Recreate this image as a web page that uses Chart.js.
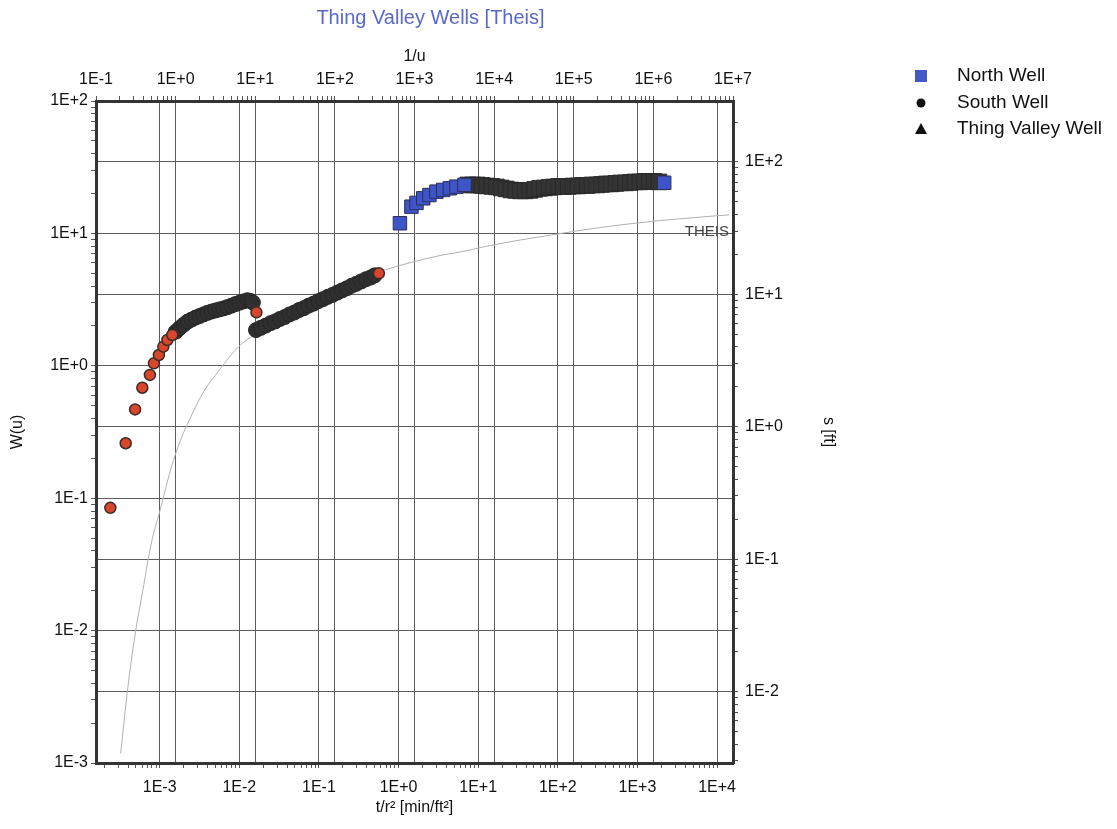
<!DOCTYPE html>
<html lang="en">
<head>
<meta charset="UTF-8">
<title>Thing Valley Wells [Theis]</title>
<script src="https://cdn.jsdelivr.net/npm/chart.js"></script>
<style>
    body { margin: 0; background: #fff; }
    #wrap { position: relative; width: 1117px; height: 829px; }
</style>
</head>
<body>
<div id="wrap"><canvas id="myChart"></canvas></div>
<script>
// values

// Theis type curve, W(u) against 1/u (top and left axes)
var theisInvU = [0.204, 0.255, 0.321, 0.369, 0.5, 0.634, 1.01, 1.78, 2.41, 3.16, 6.15, 10.1, 30, 100, 250, 493, 1790, 3908, 12400, 52400, 223000, 946000, 4.0e6, 9.0e6];
var theisW    = [0.00118, 0.0040, 0.0107, 0.0170, 0.047, 0.080, 0.221, 0.49, 0.68, 0.85, 1.39, 1.74, 2.75, 3.85, 4.75, 5.45, 6.67, 7.28, 8.41, 9.73, 11.1, 12.3, 13.3, 13.8];

// well data, t/r2 [min/ft2] against s [ft] (bottom and right axes)
// South Well, readings shown in red
var southMarkedT = [2.40e-4, 3.74e-4, 4.91e-4, 6.05e-4, 7.53e-4, 8.46e-4, 9.77e-4, 1.11e-3, 1.25e-3, 1.44e-3, 1.64e-2, 0.566];
var southMarkedS = [0.244, 0.750, 1.35, 1.97, 2.46, 3.01, 3.48, 4.02, 4.52, 4.93, 7.31, 14.4];
// South Well, first run
var southT1 = [1.59e-3, 1.78e-3, 2.00e-3, 2.24e-3, 2.51e-3, 2.82e-3, 3.16e-3, 3.55e-3, 3.98e-3, 4.47e-3, 5.01e-3, 5.62e-3, 6.31e-3, 7.08e-3, 7.94e-3, 8.91e-3, 1.00e-2, 1.12e-2, 1.26e-2, 1.38e-2, 1.48e-2];
var southS1 = [5.22, 5.56, 5.89, 6.22, 6.44, 6.67, 6.85, 7.05, 7.24, 7.41, 7.55, 7.69, 7.82, 8.00, 8.20, 8.43, 8.63, 8.83, 9.02, 8.91, 8.67];
// South Well, second run
var southT2 = [0.0162, 0.0186, 0.0214, 0.0246, 0.0282, 0.0324, 0.0372, 0.0427, 0.0490, 0.0562, 0.0646, 0.0741, 0.0851, 0.0977, 0.112, 0.129, 0.148, 0.170, 0.195, 0.224, 0.257, 0.295, 0.339, 0.389, 0.447, 0.501];
var southS2 = [5.37, 5.58, 5.80, 6.05, 6.24, 6.52, 6.74, 7.05, 7.28, 7.61, 7.86, 8.21, 8.49, 8.87, 9.18, 9.57, 9.90, 10.3, 10.7, 11.1, 11.6, 12.0, 12.5, 13.0, 13.4, 13.9];
// North Well, readings shown in blue
var northT = [1.04, 1.45, 1.68, 2.04, 2.44, 2.99, 3.63, 4.40, 5.33, 6.71, 2168];
var northS = [34.4, 45.9, 49.0, 53.1, 56.2, 59.6, 61.4, 63.2, 65.0, 67.0, 69.6];
// North Well, dense part
var northBandT = [7.41, 8.51, 9.77, 11.2, 12.9, 14.8, 17.0, 19.5, 22.4, 25.7, 29.5, 33.9, 38.9, 44.7, 51.3, 58.9, 67.6, 77.6, 89.1, 102, 117, 135, 155, 178, 204, 234, 269, 309, 355, 407, 468, 537, 617, 708, 813, 933, 1072, 1230, 1413, 1622, 1862];
var northBandS = [67.0, 67.0, 67.0, 66.4, 65.8, 65.3, 64.7, 63.6, 62.5, 61.4, 60.9, 60.4, 60.4, 60.9, 62.0, 63.1, 63.6, 64.2, 64.7, 65.3, 65.3, 65.3, 65.8, 65.8, 66.4, 66.4, 67.0, 67.0, 67.6, 68.2, 68.2, 68.8, 69.4, 69.4, 70.0, 70.6, 70.6, 71.2, 71.2, 71.2, 70.6];
// Thing Valley Well: no readings visible
var thingT = [];
var thingS = [];

// axis ranges (decade exponents)
var bottomRange = [-3.8, 4.2];   // t/r2
var topRange    = [-1, 7];       // 1/u
var leftRange   = [-3, 2];       // W(u)
var rightRange  = [-2.54, 2.46]; // s

var chartTitle = 'Thing Valley Wells [Theis]';
var legendNames = ['North Well', 'South Well', 'Thing Valley Well'];

var FONT = '"Liberation Sans", Arial, sans-serif';

function pairs(xs, ys) {
    return xs.map(function (x, i) { return { x: x, y: ys[i] }; });
}

function isDecade(v) {
    var l = Math.log10(v);
    return Math.abs(l - Math.round(l)) < 1e-6;
}

function expLabel(v) {
    var e = Math.round(Math.log10(v));
    return '1E' + (e < 0 ? '-' : '+') + Math.abs(e);
}

// 1..9 x 10^n ticks inside the range
function logTicks(min, max) {
    var out = [];
    for (var n = Math.floor(Math.log10(min)); n <= Math.ceil(Math.log10(max)); n++) {
        for (var m = 1; m <= 9; m++) {
            var v = m * Math.pow(10, n);
            if (v >= min * 0.9999 && v <= max * 1.0001) out.push({ value: v });
        }
    }
    return out;
}

function logAxis(pos, range, title, size, tickPad, titlePad) {
    var min = Math.pow(10, range[0]), max = Math.pow(10, range[1]);
    return {
        type: 'logarithmic',
        position: pos,
        min: min,
        max: max,
        afterBuildTicks: function (axis) { axis.ticks = logTicks(min, max); },
        afterFit: function (axis) {
            if (pos === 'top' || pos === 'bottom') axis.height = size; else axis.width = size;
        },
        grid: {
            color: function (c) { return c.tick && isDecade(c.tick.value) ? '#5c5c5c' : 'rgba(0,0,0,0)'; },
            lineWidth: 1,
            tickColor: '#555',
            tickLength: 5,
            tickWidth: 1
        },
        border: { display: true, color: '#333', width: 3 },
        ticks: {
            autoSkip: false,
            maxRotation: 0,
            padding: tickPad,
            color: '#111',
            font: { family: FONT, size: 16 },
            callback: function (v) { return isDecade(v) ? expLabel(v) : ''; }
        },
        title: {
            display: true,
            text: title,
            color: '#111',
            padding: titlePad,
            font: { family: FONT, size: 16 }
        }
    };
}

// title, THEIS label and legend
var decor = {
    id: 'decor',
    afterDraw: function (chart) {
        var ctx = chart.ctx, area = chart.chartArea;
        ctx.save();
        ctx.textBaseline = 'middle';

        ctx.font = '20px ' + FONT;
        ctx.fillStyle = '#5868cc';
        ctx.textAlign = 'center';
        ctx.fillText(chartTitle, (area.left + area.right) / 2 + 16, 18);

        var yEnd = chart.scales.y.getPixelForValue(theisW[theisW.length - 1]);
        ctx.font = '15px ' + FONT;
        ctx.fillStyle = '#444';
        ctx.textAlign = 'right';
        ctx.fillText('THEIS', area.right - 4, yEnd + 17);

        var lx = 921, ly = [76, 103, 129];
        ctx.fillStyle = '#4458c8';
        ctx.fillRect(lx - 6, ly[0] - 6, 12, 12);
        ctx.fillStyle = '#111';
        ctx.beginPath();
        ctx.arc(lx, ly[1], 4.5, 0, Math.PI * 2);
        ctx.fill();
        ctx.beginPath();
        ctx.moveTo(lx, ly[2] - 6);
        ctx.lineTo(lx + 6, ly[2] + 5);
        ctx.lineTo(lx - 6, ly[2] + 5);
        ctx.closePath();
        ctx.fill();

        ctx.font = '19px ' + FONT;
        ctx.textAlign = 'left';
        for (var i = 0; i < legendNames.length; i++) {
            ctx.fillText(legendNames[i], 957, ly[i]);
        }
        ctx.restore();
    }
};

var ctx = document.getElementById('myChart').getContext('2d');
var myChart = new Chart(ctx, {
    type: 'scatter',
    data: {
        datasets: [
            {
                label: 'South Well',
                data: pairs(southMarkedT, southMarkedS),
                xAxisID: 'x', yAxisID: 'y2',
                pointStyle: 'circle', pointRadius: 5.5,
                backgroundColor: '#d8462b', borderColor: '#3b2b28', borderWidth: 1.5
            },
            {
                label: 'North Well',
                data: pairs(northT, northS),
                xAxisID: 'x', yAxisID: 'y2',
                pointStyle: 'rect', pointRadius: 9.5,
                backgroundColor: '#3e55c8', borderColor: '#2a2f58', borderWidth: 1
            },
            {
                label: 'South Well',
                data: pairs(southT1, southS1),
                xAxisID: 'x', yAxisID: 'y2',
                pointStyle: 'circle', pointRadius: 7.5,
                backgroundColor: '#2f2f2f', borderColor: '#272727', borderWidth: 1
            },
            {
                label: 'South Well',
                data: pairs(southT2, southS2),
                xAxisID: 'x', yAxisID: 'y2',
                pointStyle: 'circle', pointRadius: 7.5,
                backgroundColor: '#2f2f2f', borderColor: '#272727', borderWidth: 1
            },
            {
                label: 'North Well',
                data: pairs(northBandT, northBandS),
                xAxisID: 'x', yAxisID: 'y2',
                pointStyle: 'rect', pointRadius: 11,
                backgroundColor: '#343434', borderColor: '#2a2a2a', borderWidth: 1
            },
            {
                label: 'Thing Valley Well',
                data: pairs(thingT, thingS),
                xAxisID: 'x', yAxisID: 'y2',
                pointStyle: 'triangle', pointRadius: 6,
                backgroundColor: '#111', borderColor: '#111'
            },
            {
                label: 'Theis',
                data: pairs(theisInvU, theisW),
                xAxisID: 'x2', yAxisID: 'y',
                showLine: true,
                pointRadius: 0,
                borderColor: '#b0b0b0',
                borderWidth: 1,
                tension: 0.4
            }
        ]
    },
    options: {
        responsive: true,
        maintainAspectRatio: false,
        animation: false,
        layout: { padding: { left: 0, top: 30, right: 272, bottom: 10 } },
        plugins: {
            legend: { display: false },
            title: { display: false },
            tooltip: { enabled: false }
        },
        scales: {
            x: logAxis('bottom', bottomRange, 't/r\u00b2 [min/ft\u00b2]', 56, 10, 2),
            x2: logAxis('top', topRange, '1/u', 71, 7, 17),
            y: logAxis('left', leftRange, 'W(u)', 96, 3, 8),
            y2: logAxis('right', rightRange, 's [ft]', 112, 7, 7)
        }
    },
    plugins: [decor]
});
</script>
</body>
</html>
